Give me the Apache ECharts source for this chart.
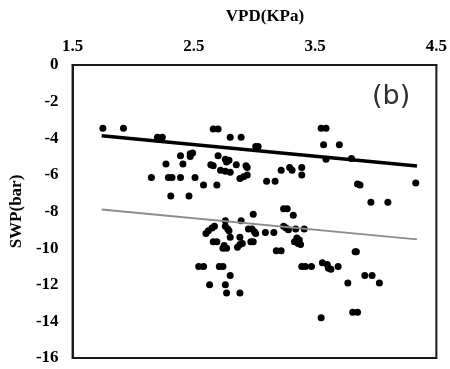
<!DOCTYPE html>
<html>
<head>
<meta charset="utf-8">
<script src="https://cdn.jsdelivr.net/npm/echarts@6/dist/echarts.min.js"></script>
<style>
  html, body { margin: 0; padding: 0; background: #fff; }
  #chart { width: 450px; height: 369px; }
</style>
</head>
<body>
<div id="chart"></div>
<script>
/* 数据：VPD 与 SWP 散点 */
const vpdTicks = [1.5, 2.5, 3.5, 4.5];
const swpTicks = [0, -2, -4, -6, -8, -10, -12, -14, -16];

// 上方一组点 [VPD, SWP]
const upperPoints = [
  [1.75, -3.45], [1.92, -3.45], [2.20, -3.95], [2.24, -3.95],
  [2.47, -4.85], [2.49, -4.8], [2.47, -5.0], [2.39, -4.95],
  [2.27, -5.4], [2.41, -5.4], [2.15, -6.15], [2.29, -6.15],
  [2.32, -6.15], [2.39, -6.15], [2.51, -6.15], [2.31, -7.15],
  [2.46, -7.15], [2.58, -6.55], [2.69, -6.55], [2.66, -3.5],
  [2.70, -3.5], [2.80, -3.95], [2.89, -3.95], [3.01, -4.45],
  [3.03, -4.45], [2.70, -4.95], [2.76, -5.15], [2.79, -5.2],
  [2.77, -5.3], [2.85, -5.45], [2.64, -5.45], [2.66, -5.5],
  [2.93, -5.5], [2.94, -5.6], [2.72, -5.75], [2.76, -5.8],
  [2.80, -5.85], [2.94, -6.0], [2.91, -6.1], [2.88, -6.2],
  [3.10, -6.35], [3.17, -6.35], [3.22, -5.75], [3.29, -5.6],
  [3.31, -5.75], [3.55, -3.45], [3.59, -3.45], [3.57, -4.35],
  [3.70, -4.35], [3.59, -5.15], [3.80, -5.1], [3.39, -5.6],
  [3.39, -6.0], [3.85, -6.5], [3.87, -6.55], [3.96, -7.5],
  [4.10, -7.5], [4.33, -6.45]
];

// 下方一组点
const lowerPoints = [
  [3.24, -7.85], [3.27, -7.85], [2.99, -8.15], [3.32, -8.2],
  [2.76, -8.5], [2.89, -8.5], [2.67, -8.8], [2.65, -8.9],
  [2.62, -9.05], [2.60, -9.2], [2.76, -8.8], [2.78, -8.95],
  [2.79, -9.05], [2.95, -8.95], [2.80, -9.4], [2.88, -9.4],
  [2.66, -9.65], [2.69, -9.65], [2.75, -9.85], [2.74, -10.0],
  [2.77, -10.0], [2.86, -9.95], [2.88, -9.8], [2.90, -9.75],
  [2.97, -9.65], [2.54, -11.0], [2.58, -11.0], [2.71, -11.0],
  [2.74, -11.0], [2.80, -11.5], [2.63, -12.0], [2.76, -12.0],
  [2.77, -12.45], [2.88, -12.45], [2.98, -8.95], [3.00, -9.1],
  [3.01, -9.2], [3.09, -9.15], [3.16, -9.15], [3.24, -8.8],
  [3.26, -8.9], [3.28, -9.0], [3.34, -8.95], [3.41, -8.95],
  [2.99, -9.65], [3.35, -9.45], [3.37, -9.55], [3.33, -9.65],
  [3.36, -9.75], [3.38, -9.8], [3.18, -10.15], [3.22, -10.15],
  [3.39, -11.0], [3.42, -11.0], [3.47, -11.0], [3.56, -10.8],
  [3.60, -10.9], [3.61, -11.1], [3.63, -11.15], [3.69, -11.0],
  [3.83, -10.2], [3.84, -10.2], [3.91, -11.5], [3.97, -11.5],
  [4.03, -11.9], [3.77, -11.9], [3.81, -13.5], [3.85, -13.5],
  [3.55, -13.8]
];

// 趋势线端点
const upperTrend = [[1.74, -3.86], [4.34, -5.52]];
const lowerTrend = [[1.74, -7.89], [4.34, -9.52]];

const serif = "'Liberation Serif', 'Times New Roman', serif";

let chartDom = document.getElementById("chart");
let myChart = echarts.init(chartDom);
let option = {
  animation: false,
  grid: {
    left: 67,
    top: 65,
    right: 12,
    bottom: 11,
    show: true,
    borderColor: "#1a1a1a",
    borderWidth: 2,
  },
  xAxis: {
    type: "value",
    position: "top",
    min: vpdTicks[0],
    max: vpdTicks[vpdTicks.length - 1],
    interval: 0.5,
    name: "VPD(KPa)",
    nameLocation: "middle",
    nameGap: 40,
    nameTextStyle: {
      fontFamily: serif,
      fontWeight: "bold",
      fontSize: 17,
      color: "#000",
      padding: [0, 0, 0, 21],
    },
    axisLine: { show: true, lineStyle: { color: "#1a1a1a", width: 2 } },
    axisTick: { show: false },
    splitLine: { show: false },
    axisLabel: {
      margin: 10,
      fontFamily: serif,
      fontWeight: "bold",
      fontSize: 17,
      color: "#000",
      formatter: (v) => (vpdTicks.some((t) => Math.abs(t - v) < 1e-6) ? v.toFixed(1) : ""),
    },
  },
  yAxis: {
    type: "value",
    min: swpTicks[swpTicks.length - 1],
    max: swpTicks[0],
    interval: 2,
    name: "SWP(bar)",
    nameLocation: "middle",
    nameGap: 43,
    nameTextStyle: {
      fontFamily: serif,
      fontWeight: "bold",
      fontSize: 17,
      color: "#000",
    },
    axisLine: { show: true, lineStyle: { color: "#1a1a1a", width: 2 } },
    axisTick: { show: false },
    splitLine: { show: false },
    axisLabel: {
      margin: 14,
      fontFamily: serif,
      fontWeight: "bold",
      fontSize: 17,
      color: "#000",
    },
  },
  graphic: [
    {
      type: "text",
      left: 372,
      top: 83,
      style: {
        text: "(b)",
        fontFamily: "'DejaVu Sans', sans-serif",
        fontSize: 27,
        fill: "#2f2f2f",
      },
    },
  ],
  series: [
    {
      type: "scatter",
      data: upperPoints,
      symbolSize: 7,
      itemStyle: { color: "#000", opacity: 1 },
    },
    {
      type: "scatter",
      data: lowerPoints,
      symbolSize: 7,
      itemStyle: { color: "#000", opacity: 1 },
    },
    {
      type: "line",
      data: upperTrend,
      symbol: "none",
      lineStyle: { color: "#000", width: 3.5 },
    },
    {
      type: "line",
      data: lowerTrend,
      symbol: "none",
      lineStyle: { color: "#8c8c8c", width: 1.8 },
    },
  ],
};

option && myChart.setOption(option);
</script>
</body>
</html>
